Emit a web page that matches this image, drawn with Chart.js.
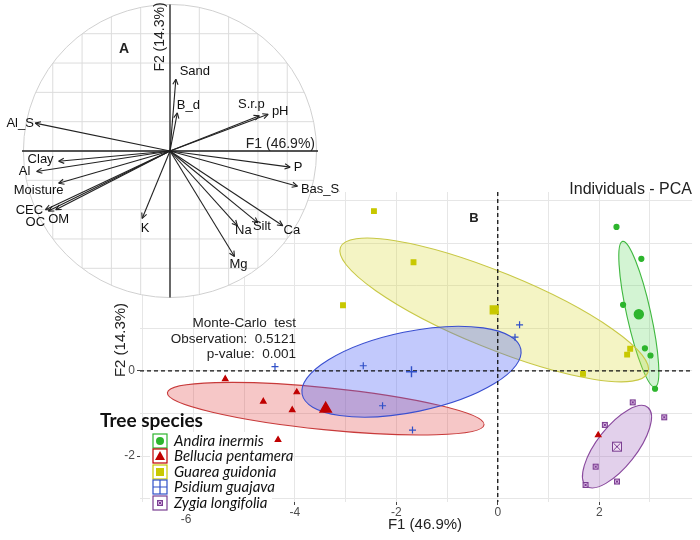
<!DOCTYPE html>
<html>
<head>
<meta charset="utf-8">
<script src="https://cdn.jsdelivr.net/npm/chart.js@4.4.0/dist/chart.umd.min.js"></script>
<style>
  html, body { margin: 0; padding: 0; background: #fff; }
  #wrap { position: relative; width: 700px; height: 540px; }
  canvas { position: absolute; left: 0; top: 0; }
</style>
</head>
<body>
<div id="wrap">
  <canvas id="pcaInd" width="700" height="540" style="width:700px;height:540px"></canvas>
  <canvas id="pcaVar" width="340" height="302" style="width:340px;height:302px"></canvas>
</div>
<script>
// ---- panel A : variable loadings ----
const variables = ['Sand', 'B_d', 'S.r.p', 'pH', 'Al_S', 'Clay', 'Al', 'Moisture', 'CEC', 'OC', 'OM', 'K', 'Mg', 'Na', 'Silt', 'Ca', 'P', 'Bas_Sat'];
const loadF1 = [0.04, 0.05, 0.61, 0.67, -0.92, -0.76, -0.91, -0.76, -0.85, -0.83, -0.78, -0.19, 0.44, 0.46, 0.60, 0.77, 0.82, 0.87];
const loadF2 = [0.49, 0.26, 0.24, 0.25, 0.19, -0.07, -0.14, -0.22, -0.40, -0.41, -0.40, -0.46, -0.72, -0.51, -0.49, -0.51, -0.11, -0.24];

// ---- panel B : individuals ----
const species = ['Andira inermis', 'Bellucia pentamera', 'Guarea guidonia', 'Psidium guajava', 'Zygia longifolia'];
const andiraX = [2.34, 2.83, 2.47, 2.90, 3.01, 3.10];
const andiraY = [3.38, 2.63, 1.55, 0.53, 0.36, -0.42];
const belluciaX = [-5.37, -4.62, -3.96, -4.05, -4.33, 1.98];
const belluciaY = [-0.19, -0.72, -0.50, -0.92, -1.62, -1.51];
const guareaX = [-2.44, -1.66, -3.05, 2.61, 2.55, 1.68];
const guareaY = [3.75, 2.55, 1.54, 0.52, 0.38, -0.07];
const psidiumX = [0.43, 0.34, -2.65, -2.27, -1.68, -4.39];
const psidiumY = [1.08, 0.79, 0.12, -0.82, -1.39, 0.10];
const zygiaX = [2.66, 3.28, 2.11, 1.93, 1.73, 2.35];
const zygiaY = [-0.74, -1.09, -1.27, -2.25, -2.68, -2.60];
const centroidX = [2.78, -3.39, -0.07, -1.70, 2.35];
const centroidY = [1.33, -0.89, 1.43, -0.02, -1.78];
// confidence ellipses : semi-axis vectors (F1, F2 units)
const ellMajorX = [0.32, 3.12, 3.03, 2.155, 0.61];
const ellMajorY = [-1.71, -0.376, -1.47, 0.53, 0.92];
const ellMinorX = [0.23, -0.04, 0.27, 0.155, 0.30];
const ellMinorY = [0.063, -0.49, 0.83, -0.925, -0.30];
const xTicks = [-6, -4, -2, 0, 2];

const colors = ['#2db52d', '#c00000', '#c8c800', '#3050c8', '#7b3f92'];
const fills = ['rgba(110,220,110,0.3)', 'rgba(225,70,70,0.3)', 'rgba(220,220,60,0.3)', 'rgba(80,100,245,0.35)', 'rgba(160,100,190,0.3)'];
const strokes = ['#40b840', '#c83a3a', '#c8c846', '#3a4fd0', '#8a4a9e'];

const SANS = '"Liberation Sans", Arial, sans-serif';
const LEG = 'Lato, "Open Sans", sans-serif';

const pts = (xs, ys) => xs.map((v, i) => ({ x: v, y: ys[i] }));

// square with an X, for Zygia
function boxX(size, fill, stroke) {
  const c = document.createElement('canvas');
  c.width = c.height = size + 2;
  const g = c.getContext('2d');
  g.fillStyle = fill; g.strokeStyle = stroke; g.lineWidth = 1;
  g.fillRect(1, 1, size, size);
  g.strokeRect(1.5, 1.5, size - 1, size - 1);
  g.beginPath();
  g.moveTo(2.5, 2.5); g.lineTo(size - 0.5, size - 0.5);
  g.moveTo(size - 0.5, 2.5); g.lineTo(2.5, size - 0.5);
  g.stroke();
  return c;
}
const zygSmall = boxX(6, '#d9b3e3', colors[4]);
const zygBig = boxX(10, '#eedcf2', colors[4]);

const styles = [
  { ps: 'circle', r: 2.5, R: 4.5 },
  { ps: 'triangle', r: 3.2, R: 6.5 },
  { ps: 'rect', r: 3.3, R: 5.5 },
  { ps: 'cross', r: 3.5, R: 5.5 },
  { ps: zygSmall, r: 3, R: 5 }
];
const groupX = [andiraX, belluciaX, guareaX, psidiumX, zygiaX];
const groupY = [andiraY, belluciaY, guareaY, psidiumY, zygiaY];

const indDatasets = [];
species.forEach((s, i) => {
  indDatasets.push({
    label: s, data: pts(groupX[i], groupY[i]),
    pointStyle: styles[i].ps, pointRadius: styles[i].r,
    backgroundColor: colors[i], borderColor: colors[i], borderWidth: 1.2
  });
});
species.forEach((s, i) => {
  indDatasets.push({
    label: s + ' mean', data: [{ x: centroidX[i], y: centroidY[i] }],
    pointStyle: i === 4 ? zygBig : styles[i].ps, pointRadius: styles[i].R,
    backgroundColor: colors[i], borderColor: colors[i], borderWidth: 1.4
  });
});

const indPlugin = {
  id: 'indExtras',
  beforeDatasetsDraw(chart) {
    const { ctx, chartArea: a, scales: { x, y } } = chart;
    ctx.save();
    ctx.beginPath();
    ctx.rect(a.left, a.top, a.right - a.left, a.bottom - a.top);
    ctx.clip();
    species.forEach((s, i) => {
      const cx = x.getPixelForValue(centroidX[i]), cy = y.getPixelForValue(centroidY[i]);
      const ax = x.getPixelForValue(centroidX[i] + ellMajorX[i]) - cx;
      const ay = y.getPixelForValue(centroidY[i] + ellMajorY[i]) - cy;
      const bx = x.getPixelForValue(centroidX[i] + ellMinorX[i]) - cx;
      const by = y.getPixelForValue(centroidY[i] + ellMinorY[i]) - cy;
      ctx.save();
      ctx.transform(ax, ay, bx, by, cx, cy);
      ctx.beginPath();
      ctx.arc(0, 0, 1, 0, Math.PI * 2);
      ctx.restore();
      ctx.fillStyle = fills[i];
      ctx.fill();
      ctx.strokeStyle = strokes[i];
      ctx.lineWidth = 1.1;
      ctx.stroke();
    });
    // origin lines
    ctx.strokeStyle = '#111';
    ctx.lineWidth = 1.3;
    ctx.setLineDash([4, 3]);
    const x0 = x.getPixelForValue(0), y0 = y.getPixelForValue(0);
    ctx.beginPath();
    ctx.moveTo(a.left, y0); ctx.lineTo(a.right, y0);
    ctx.moveTo(x0, a.top); ctx.lineTo(x0, a.bottom);
    ctx.stroke();
    ctx.restore();
  },
  afterDraw(chart) {
    const { ctx } = chart;
    ctx.save();
    ctx.fillStyle = '#222';
    ctx.textBaseline = 'middle';
    // titles
    ctx.font = '16px ' + SANS;
    ctx.textAlign = 'right';
    ctx.fillText('Individuals - PCA', 692, 190);
    ctx.font = 'bold 13px ' + SANS;
    ctx.textAlign = 'center';
    ctx.fillText('B', 474, 218);
    ctx.font = '15px ' + SANS;
    ctx.fillText('F1 (46.9%)', 425, 525);
    ctx.save();
    ctx.translate(121, 340);
    ctx.rotate(-Math.PI / 2);
    ctx.fillText('F2 (14.3%)', 0, 0);
    ctx.restore();
    // test result
    ctx.font = '13.5px ' + SANS;
    ctx.textAlign = 'right';
    ctx.fillText('Monte-Carlo  test', 296, 323);
    ctx.fillText('Observation:  0.5121', 296, 339);
    ctx.fillText('p-value:  0.001', 296, 354);
    // legend
    ctx.fillStyle = '#fff';
    ctx.fillRect(150, 432, 122, 80);
    ctx.fillStyle = '#111';
    ctx.textAlign = 'left';
    ctx.font = 'bold 19px ' + LEG;
    ctx.fillText('Tree species', 100, 421);
    const rows = [441, 456, 472, 487, 503];
    species.forEach((s, i) => {
      const cy = rows[i], cx = 160, h = 7;
      ctx.strokeStyle = colors[i];
      ctx.fillStyle = colors[i];
      ctx.lineWidth = 1.2;
      ctx.strokeRect(cx - h, cy - h, 2 * h, 2 * h);
      ctx.beginPath();
      if (i === 0) { ctx.arc(cx, cy, 4, 0, Math.PI * 2); ctx.fill(); }
      if (i === 1) { ctx.moveTo(cx, cy - 5); ctx.lineTo(cx + 5, cy + 4); ctx.lineTo(cx - 5, cy + 4); ctx.closePath(); ctx.fill(); }
      if (i === 2) { ctx.fillRect(cx - 4, cy - 4, 8, 8); }
      if (i === 3) { ctx.moveTo(cx, cy - h); ctx.lineTo(cx, cy + h); ctx.moveTo(cx - h, cy); ctx.lineTo(cx + h, cy); ctx.stroke(); }
      if (i === 4) { ctx.drawImage(zygSmall, cx - 4, cy - 4); }
      ctx.fillStyle = '#111';
      ctx.font = 'italic 15px ' + LEG;
      ctx.fillText(s, 174, cy);
    });
    ctx.fillStyle = '#4d4d4d';
    ctx.font = '12px ' + SANS;
    ctx.textAlign = 'center';
    ctx.fillText('-6', 186, 520);
    ctx.restore();
  }
};

new Chart(document.getElementById('pcaInd'), {
  type: 'scatter',
  data: { datasets: indDatasets },
  options: {
    responsive: false,
    animation: false,
    devicePixelRatio: 1,
    layout: { padding: { top: 192, right: 2, left: 0, bottom: 0 } },
    plugins: { legend: { display: false }, tooltip: { enabled: false } },
    scales: {
      x: {
        type: 'linear', min: -7.05, max: 3.83,
        afterFit: (s) => { s.height = 38; },
        border: { display: false },
        grid: { color: '#e6e6e6', tickLength: 3, tickColor: (c) => (xTicks.includes(c.tick.value) ? '#444' : 'rgba(0,0,0,0)') },
        ticks: {
          stepSize: 1, includeBounds: false, padding: 0, maxRotation: 0, autoSkip: false,
          color: '#4d4d4d', font: { size: 12, family: SANS },
          callback: (v) => (xTicks.includes(v) && v !== -6 ? String(v) : '')
        }
      },
      y: {
        type: 'linear', min: -3.08, max: 4.2,
        afterFit: (s) => { s.width = 140; },
        border: { display: false },
        grid: { color: '#e6e6e6', tickLength: 3, tickColor: (c) => (c.tick.value % 2 === 0 ? '#444' : 'rgba(0,0,0,0)') },
        ticks: {
          stepSize: 1, includeBounds: false, padding: 2, autoSkip: false,
          color: '#4d4d4d', font: { size: 12, family: SANS },
          callback: (v) => (v % 2 === 0 ? String(v) : '')
        }
      }
    }
  },
  plugins: [indPlugin]
});

// ---- panel A chart ----
const labelShift = {
  Sand: [19, -8], B_d: [11, -7], 'S.r.p': [-8, -11], pH: [12, -3], Al_S: [-15, 0],
  Clay: [-18, -2], Al: [-12, 0], Moisture: [-20, 7], CEC: [-16, 1], OC: [-13, 11],
  OM: [3, 10], K: [3, 10], Mg: [4, 8], Na: [6, 5], Silt: [4, 4], Ca: [9, 5], P: [8, 0], Bas_Sat: [28, 3]
};

const varPlugin = {
  id: 'circle',
  beforeDatasetsDraw(chart) {
    const { ctx, scales: { x, y } } = chart;
    const cx = x.getPixelForValue(0), cy = y.getPixelForValue(0);
    const r = x.getPixelForValue(1) - cx;
    ctx.save();
    ctx.beginPath();
    ctx.arc(cx, cy, r, 0, Math.PI * 2);
    ctx.fillStyle = '#fff';
    ctx.fill();
    ctx.save();
    ctx.clip();
    ctx.strokeStyle = '#dcdcdc';
    ctx.lineWidth = 1;
    ctx.beginPath();
    for (let k = -5; k <= 5; k++) {
      const px = x.getPixelForValue(k * 0.2), py = y.getPixelForValue(k * 0.2);
      ctx.moveTo(px, cy - r); ctx.lineTo(px, cy + r);
      ctx.moveTo(cx - r, py); ctx.lineTo(cx + r, py);
    }
    ctx.stroke();
    ctx.restore();
    ctx.strokeStyle = '#d0d0d0';
    ctx.beginPath();
    ctx.arc(cx, cy, r, 0, Math.PI * 2);
    ctx.stroke();
    ctx.strokeStyle = '#222';
    ctx.lineWidth = 1.3;
    ctx.beginPath();
    ctx.moveTo(x.getPixelForValue(-1.01), cy); ctx.lineTo(x.getPixelForValue(1.01), cy);
    ctx.moveTo(cx, y.getPixelForValue(1.0)); ctx.lineTo(cx, y.getPixelForValue(-1.0));
    ctx.stroke();
    ctx.fillStyle = '#222';
    ctx.font = '14px ' + SANS;
    ctx.textBaseline = 'middle';
    ctx.textAlign = 'right';
    ctx.fillText('F1 (46.9%)', 315, 144);
    ctx.save();
    ctx.translate(160, 37);
    ctx.rotate(-Math.PI / 2);
    ctx.textAlign = 'center';
    ctx.fillText('F2 (14.3%)', 0, 0);
    ctx.restore();
    ctx.font = 'bold 14px ' + SANS;
    ctx.textAlign = 'center';
    ctx.fillText('A', 124, 49);
    ctx.restore();
  },
  afterDatasetsDraw(chart) {
    const { ctx, scales: { x, y } } = chart;
    const cx = x.getPixelForValue(0), cy = y.getPixelForValue(0);
    ctx.save();
    ctx.strokeStyle = '#222';
    ctx.fillStyle = '#111';
    ctx.lineWidth = 1.1;
    ctx.font = '13px ' + SANS;
    ctx.textAlign = 'center';
    ctx.textBaseline = 'middle';
    variables.forEach((v, i) => {
      const tx = x.getPixelForValue(loadF1[i]), ty = y.getPixelForValue(loadF2[i]);
      const ang = Math.atan2(ty - cy, tx - cx);
      ctx.beginPath();
      [0.45, -0.45].forEach((d) => {
        ctx.moveTo(tx, ty);
        ctx.lineTo(tx - 6 * Math.cos(ang + d), ty - 6 * Math.sin(ang + d));
      });
      ctx.stroke();
      const sh = labelShift[v];
      ctx.fillText(v, tx + sh[0], ty + sh[1]);
    });
    ctx.restore();
  }
};

new Chart(document.getElementById('pcaVar'), {
  type: 'scatter',
  data: {
    datasets: variables.map((v, i) => ({
      label: v,
      data: [{ x: 0, y: 0 }, { x: loadF1[i], y: loadF2[i] }],
      showLine: true, borderColor: '#222', borderWidth: 1.1, pointRadius: 0
    }))
  },
  options: {
    responsive: false,
    animation: false,
    devicePixelRatio: 1,
    layout: { padding: 0 },
    plugins: { legend: { display: false }, tooltip: { enabled: false } },
    scales: {
      x: { type: 'linear', min: -1.16, max: 1.16, display: false },
      y: { type: 'linear', min: -1.03, max: 1.03, display: false }
    }
  },
  plugins: [varPlugin]
});
</script>
</body>
</html>
